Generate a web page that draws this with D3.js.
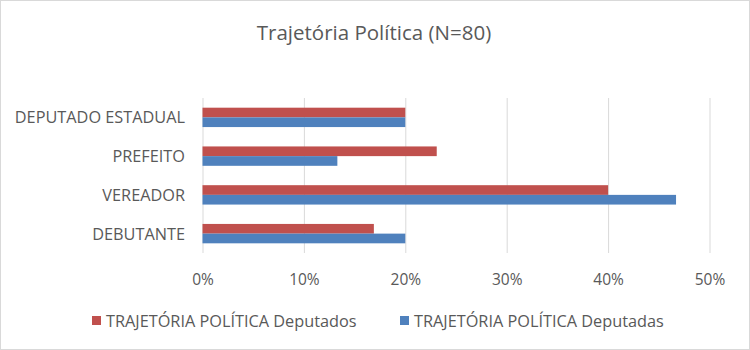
<!DOCTYPE html>
<html><head><meta charset="utf-8">
<script src="https://cdn.jsdelivr.net/npm/d3@7/dist/d3.min.js"></script>
<style>body{margin:0;background:#fff}svg{display:block}text{font-family:"Open Sans",sans-serif;fill:#595959}</style>
</head><body><svg id="c" width="750" height="350"></svg>
<script>
const categories = ["DEPUTADO ESTADUAL", "PREFEITO", "VEREADOR", "DEBUTANTE"];
const seriesNames = ["TRAJETÓRIA POLÍTICA Deputados", "TRAJETÓRIA POLÍTICA Deputadas"];
const deputados = [20.0, 23.1, 40.0, 16.9];
const deputadas = [20.0, 13.3, 46.7, 20.0];
const tickValues = [0, 10, 20, 30, 40, 50];
const title = "Trajetória Política (N=80)";

const colors = ["#C0504D", "#4F81BD"];
const svg = d3.select("#c");
svg.append("rect").attr("x",0.5).attr("y",0.5).attr("width",749).attr("height",349)
  .attr("fill","#fff").attr("stroke","#D9D9D9");

const x = d3.scaleLinear().domain([0, 50]).range([202.5, 709.5]);
const y = d3.scaleBand().domain(categories).range([98, 253]).paddingInner(0.5).paddingOuter(0.25);
const ys = d3.scaleBand().domain(seriesNames).range([0, y.bandwidth()]);

svg.append("text").attr("x",374).attr("y",32).attr("text-anchor","middle")
  .attr("dominant-baseline","central").style("font-size","20.5px").text(title);

// gridlines
const grid = svg.append("g")
  .call(d3.axisBottom(x).tickValues(tickValues).tickSize(155).tickFormat(""));
grid.attr("transform","translate(0,98)");
grid.select(".domain").remove();
grid.selectAll("line").attr("stroke","#D9D9D9");

// x tick labels
const xa = svg.append("g").attr("transform","translate(0,279)")
  .call(d3.axisBottom(x).tickValues(tickValues).tickSize(0).tickPadding(0).tickFormat(d => d + "%"));
xa.select(".domain").remove();
xa.selectAll("text").attr("dy",null).attr("dominant-baseline","central")
  .style("font-size","15.5px").style("font-family",'"Open Sans",sans-serif').attr("fill","#595959");

// y labels
const ya = svg.append("g").attr("transform","translate(185,0)")
  .call(d3.axisLeft(y).tickSize(0).tickPadding(0));
ya.select(".domain").remove();
ya.selectAll("text").attr("dy",null).attr("dominant-baseline","central")
  .style("font-size","16.3px").style("font-family",'"Open Sans",sans-serif').attr("fill","#595959");

const data = [deputados, deputadas];
data.forEach((vals, si) => {
  svg.append("g").selectAll("rect").data(categories).join("rect")
    .attr("x", x(0))
    .attr("y", c => y(c) + ys(seriesNames[si]))
    .attr("width", (c,i) => x(vals[i]) - x(0))
    .attr("height", ys.bandwidth())
    .attr("fill", colors[si]);
});

// legend
const legX = [92, 400];
seriesNames.forEach((n, i) => {
  svg.append("rect").attr("x",legX[i]).attr("y",316).attr("width",9).attr("height",9).attr("fill",colors[i]);
  svg.append("text").attr("x",legX[i]+14).attr("y",320.5).attr("dominant-baseline","central")
    .style("font-size","16.3px").text(n);
});
</script></body></html>
